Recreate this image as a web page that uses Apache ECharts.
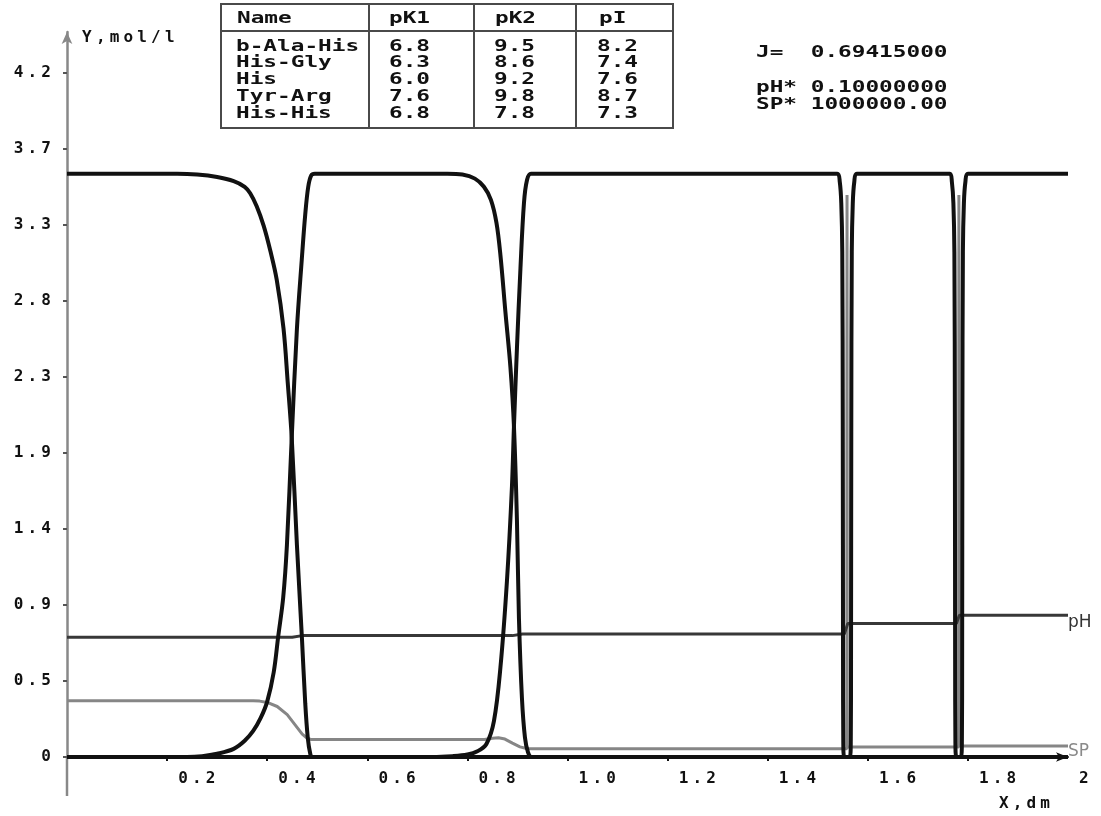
<!DOCTYPE html>
<html><head><meta charset="utf-8">
<script src="https://cdn.jsdelivr.net/npm/echarts@6/dist/echarts.min.js"></script>
<style>html,body{margin:0;padding:0;background:#fff}#c{width:1101px;height:816px}</style>
</head><body><div id="c"></div>
<script>
// ---------- data ----------
const tableHeader = ['Name', 'pK1', 'pK2', 'pI'];
const tableNames = ['b-Ala-His', 'His-Gly', 'His', 'Tyr-Arg', 'His-His'];
const tablePK1 = ['6.8', '6.3', '6.0', '7.6', '6.8'];
const tablePK2 = ['9.5', '8.6', '9.2', '9.8', '7.8'];
const tablePI = ['8.2', '7.4', '7.6', '8.7', '7.3'];
const paramLines = ['J=  0.69415000', 'pH* 0.10000000', 'SP* 1000000.00'];

const xTickValues = [0.2, 0.4, 0.6, 0.8, 1.0, 1.2, 1.4, 1.6, 1.8, 2.0];
const xTickLabels = ['0.2', '0.4', '0.6', '0.8', '1.0', '1.2', '1.4', '1.6', '1.8', '2'];
const yTickValues = [0, 0.4667, 0.9333, 1.4, 1.8667, 2.3333, 2.8, 3.2667, 3.7333, 4.2];
const yTickLabels = ['0', '0.5', '0.9', '1.4', '1.9', '2.3', '2.8', '3.3', '3.7', '4.2'];

// concentration zones [x, dm ; y, mol/l]
const zone1 = [[0,3.58],[0.22,3.58],[0.26,3.575],[0.30,3.56],[0.333,3.535],[0.355,3.50],[0.366,3.46],[0.379,3.38],[0.393,3.26],[0.406,3.11],[0.419,2.93],[0.4326,2.63],[0.441,2.30],[0.449,1.96],[0.4594,1.30],[0.4694,0.73],[0.476,0.33],[0.481,0.12],[0.486,0.02],[0.49,0],[2.0,0]];
const zone2 = [[0,0],[0.24,0],[0.27,0.005],[0.30,0.02],[0.333,0.05],[0.355,0.10],[0.372,0.16],[0.387,0.24],[0.40,0.34],[0.413,0.52],[0.422,0.74],[0.432,0.98],[0.4394,1.30],[0.449,1.96],[0.4594,2.63],[0.469,3.05],[0.476,3.33],[0.482,3.5],[0.488,3.57],[0.495,3.58],
  [0.76,3.58],[0.79,3.575],[0.815,3.55],[0.833,3.50],[0.847,3.42],[0.858,3.28],[0.866,3.08],[0.876,2.73],[0.886,2.39],[0.893,2.03],[0.899,1.45],[0.903,0.85],[0.909,0.36],[0.915,0.12],[0.921,0.03],[0.928,0],[2.0,0]];
const zone3 = [[0,0],[0.73,0],[0.77,0.005],[0.80,0.015],[0.82,0.035],[0.838,0.08],[0.853,0.22],[0.866,0.55],[0.879,1.08],[0.889,1.66],[0.893,2.03],[0.899,2.51],[0.906,3.0],[0.913,3.40],[0.919,3.54],[0.927,3.58],
  [1.539,3.58],[1.544,3.53],[1.547,3.40],[1.549,3.1],[1.550,2.0],[1.5505,0.6],[1.551,0.1],[1.553,0],[2.0,0]];
const zone4 = [[0,0],[1.564,0],[1.566,0.1],[1.5665,0.6],[1.567,2.0],[1.568,3.1],[1.570,3.40],[1.573,3.53],[1.578,3.58],
  [1.764,3.58],[1.768,3.53],[1.771,3.40],[1.773,3.1],[1.774,2.0],[1.7745,0.6],[1.775,0.1],[1.777,0],[2.0,0]];
const zone5 = [[0,0],[1.786,0],[1.788,0.1],[1.7885,0.6],[1.789,2.0],[1.790,3.1],[1.792,3.40],[1.795,3.53],[1.800,3.58],[2.0,3.58]];

const phCurve = [[0,0.735],[0.45,0.735],[0.47,0.745],[0.89,0.745],[0.91,0.755],[1.553,0.755],[1.56,0.82],[1.777,0.82],[1.783,0.87],[2.0,0.87]];
const spCurve = [[0,0.345],[0.372,0.345],[0.385,0.343],[0.40,0.335],[0.42,0.31],[0.44,0.26],[0.455,0.20],[0.47,0.14],[0.48,0.115],[0.487,0.108],
  [0.834,0.108],[0.85,0.115],[0.862,0.118],[0.875,0.11],[0.89,0.085],[0.905,0.062],[0.918,0.052],[0.93,0.05],
  [1.558,0.05],[1.5585,3.45],[1.559,0.062],[1.7815,0.062],[1.782,3.45],[1.7825,0.068],[2.0,0.068]];

// ---------- chart ----------
const mono = '"DejaVu Sans Mono", monospace';
const cellRich = { c: { width: 13.8, align: 'center', fontFamily: mono, fontWeight: 'bold', fontSize: 16, color: '#111', lineHeight: 18 } };
function cells(s) { return s.split('').map(ch => '{c|' + ch + '}').join(''); }
function lab(values, labels, v) {
  let best = 0, d = Infinity;
  values.forEach((t, i) => { const e = Math.abs(t - v); if (e < d) { d = e; best = i; } });
  return cells(labels[best]);
}

const chart = echarts.init(document.getElementById('c'), null, { renderer: 'canvas' });

const zoneSeries = [zone1, zone2, zone3, zone4, zone5].map((z, i) => ({
  name: tableNames[i], type: 'line', data: z, showSymbol: false, silent: true, z: 4,
  smooth: 0.35, lineStyle: { color: '#111', width: 4 }
}));

const tableFont = 'bold 16px ' + mono;
const graphics = [
  { type: 'rect', shape: { x: 221, y: 4, width: 452, height: 124 }, style: { fill: '#fff', stroke: '#4a4a4a', lineWidth: 2 } },
  { type: 'line', shape: { x1: 221, y1: 31, x2: 673, y2: 31 }, style: { stroke: '#4a4a4a', lineWidth: 2 } },
  { type: 'line', shape: { x1: 369, y1: 4, x2: 369, y2: 128 }, style: { stroke: '#4a4a4a', lineWidth: 2 } },
  { type: 'line', shape: { x1: 474, y1: 4, x2: 474, y2: 128 }, style: { stroke: '#4a4a4a', lineWidth: 2 } },
  { type: 'line', shape: { x1: 576, y1: 4, x2: 576, y2: 128 }, style: { stroke: '#4a4a4a', lineWidth: 2 } },
  // y-axis stub below the x-axis
  { type: 'line', shape: { x1: 67, y1: 757, x2: 67, y2: 796 }, style: { stroke: '#888', lineWidth: 2.5 } }
];
function txt(s, x, y) {
  return { type: 'text', x: x, y: y, scaleX: 1.42, style: { text: s, font: tableFont, fill: '#111', textVerticalAlign: 'middle', verticalAlign: 'middle' } };
}
const headerX = [237, 389, 495, 599];
tableHeader.forEach((h, i) => graphics.push(txt(h, headerX[i], 19)));
const colX = [236, 389, 494, 597];
tableNames.forEach((n, r) => {
  const y = 46.5 + r * 16.8;
  graphics.push(txt(n, colX[0], y));
  graphics.push(txt(tablePK1[r], colX[1], y));
  graphics.push(txt(tablePK2[r], colX[2], y));
  graphics.push(txt(tablePI[r], colX[3], y));
});
const paramY = [53, 88, 105];
paramLines.forEach((p, i) => graphics.push(txt(p, 756, paramY[i])));

chart.setOption({
  animation: false,
  backgroundColor: '#fff',
  grid: { left: 67, right: 33, top: 32, bottom: 59, containLabel: false, outerBoundsMode: 'none' },
  xAxis: {
    type: 'value', min: 0, max: 2.0,
    axisLine: { show: true, onZero: false, lineStyle: { color: '#111', width: 2 }, symbol: ['none', 'arrow'], symbolSize: [7, 12] },
    axisTick: { show: true, customValues: xTickValues.slice(0, 9), length: 4, lineStyle: { color: '#111', width: 2 } },
    axisLabel: { customValues: xTickValues, align: 'left', margin: 13, padding: [0, 0, 0, 9], formatter: v => lab(xTickValues, xTickLabels, v), rich: cellRich },
    splitLine: { show: false },
    name: cells('X,dm'), nameLocation: 'end', nameGap: 0,
    nameTextStyle: { align: 'right', verticalAlign: 'top', padding: [38, 16, 0, 0], rich: cellRich }
  },
  yAxis: {
    type: 'value', min: 0, max: 4.45,
    axisLine: { show: true, onZero: false, lineStyle: { color: '#888', width: 2.5 }, symbol: ['none', 'arrow'], symbolSize: [8, 12] },
    axisTick: { show: true, customValues: yTickValues, length: 4, lineStyle: { color: '#555', width: 2 } },
    axisLabel: { customValues: yTickValues, margin: 14, formatter: v => lab(yTickValues, yTickLabels, v), rich: cellRich },
    splitLine: { show: false },
    name: cells('Y,mol/l'), nameLocation: 'end', nameGap: -6,
    nameTextStyle: { align: 'left', verticalAlign: 'middle', padding: [0, 0, 0, 13], rich: cellRich }
  },
  graphic: graphics,
  series: [
    { name: 'SP', type: 'line', data: spCurve, showSymbol: false, silent: true, z: 2,
      lineStyle: { color: '#868686', width: 3 },
      endLabel: { show: true, formatter: 'SP', color: '#8a8a8a', fontFamily: 'DejaVu Sans', fontSize: 17, distance: 0, offset: [0, 6] } },
    { name: 'pH', type: 'line', data: phCurve, showSymbol: false, silent: true, z: 3,
      lineStyle: { color: '#383838', width: 3 },
      endLabel: { show: true, formatter: 'pH', color: '#333', fontFamily: 'DejaVu Sans', fontSize: 17, distance: 0, offset: [0, 7] } }
  ].concat(zoneSeries)
});
</script>
</body></html>
